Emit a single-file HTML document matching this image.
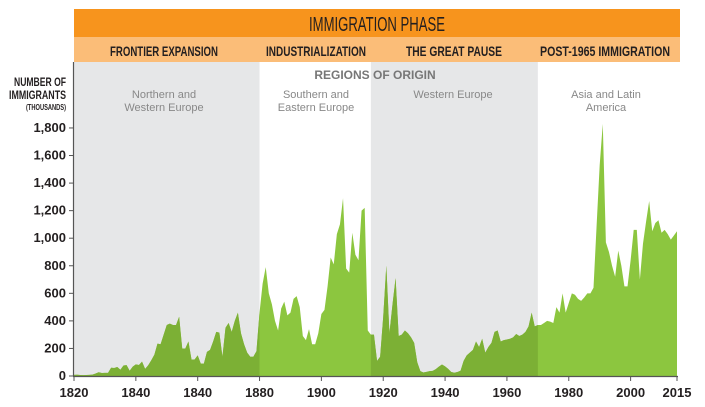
<!DOCTYPE html>
<html><head><meta charset="utf-8"><style>
html,body{margin:0;padding:0;background:#fff;}
svg{display:block;font-family:"Liberation Sans Narrow","Liberation Sans",sans-serif;}
</style></head><body>
<svg id="chart" width="705" height="407" viewBox="0 0 705 407">
<rect x="74" y="9" width="606" height="28" fill="#f7941d"/>
<text x="377" y="31" text-anchor="middle" font-size="20" fill="#231f20" textLength="136" lengthAdjust="spacingAndGlyphs">IMMIGRATION PHASE</text>
<rect x="74" y="37" width="606" height="25" fill="#fbbd78"/>
<g font-weight="bold" font-size="14" fill="#231f20" text-anchor="middle">
<text x="164" y="56" textLength="108" lengthAdjust="spacingAndGlyphs">FRONTIER EXPANSION</text>
<text x="316" y="56" textLength="100" lengthAdjust="spacingAndGlyphs">INDUSTRIALIZATION</text>
<text x="454" y="56" textLength="96" lengthAdjust="spacingAndGlyphs">THE GREAT PAUSE</text>
<text x="605" y="56" textLength="130" lengthAdjust="spacingAndGlyphs">POST-1965 IMMIGRATION</text>
</g>
<g id="bg"></g>
<text x="375" y="79" text-anchor="middle" font-size="12" font-weight="bold" fill="#777" font-family="Liberation Sans, sans-serif">REGIONS OF ORIGIN</text>
<g font-family="Liberation Sans, sans-serif" font-size="11" fill="#888" text-anchor="middle">
<text x="164" y="98">Northern and<tspan x="164" dy="13">Western Europe</tspan></text>
<text x="316" y="98">Southern and<tspan x="316" dy="13">Eastern Europe</tspan></text>
<text x="453" y="98">Western Europe</text>
<text x="606" y="98">Asia and Latin<tspan x="606" dy="13">America</tspan></text>
</g>
<g text-anchor="end" fill="#231f20" font-weight="bold">
<text x="66" y="86" font-size="12" textLength="52" lengthAdjust="spacingAndGlyphs">NUMBER OF</text>
<text x="66" y="99" font-size="12" textLength="57" lengthAdjust="spacingAndGlyphs">IMMIGRANTS</text>
<text x="66" y="110" font-size="8" textLength="40" lengthAdjust="spacingAndGlyphs">(THOUSANDS)</text>
</g>
<g id="plot"></g>
<g id="axes"></g>
</svg>
<script>
const startYear = 1820;
const values = [8,9,7,6,7,8,10,18,27,22,23,23,60,58,65,
45,76,79,38,68,84,80,104,52,78,114,155,235,230,300,
370,380,370,370,430,200,200,250,120,120,150,90,90,175,190,250,320,315,140,350,
385,320,400,460,310,230,170,140,140,180,
460,670,790,600,520,400,330,490,540,440,460,560,580,500,290,260,340,230,230,310,
450,480,650,860,810,1030,1100,1290,780,750,1040,880,840,1200,1220,330,300,300,110,140,
430,800,310,520,710,290,300,330,310,280,240,100,35,25,30,35,37,50,68,83,
70,52,29,24,29,38,110,150,170,190,250,210,270,170,210,240,320,330,250,260,
265,270,280,305,290,300,320,360,460,360,370,370,385,400,395,385,500,460,600,460,
530,600,590,560,545,570,600,600,640,1090,1530,1830,970,900,800,720,910,800,650,650,
840,1060,1060,700,960,1120,1270,1050,1110,1130,1040,1060,1030,990,1020,1050];
const xTicks = [1820,1840,1860,1880,1900,1920,1940,1960,1980,2000,2015];
const xTickLabels = ["1820","1840","1840","1880","1900","1920","1940","1960","1980","2000","2015"];
const yTicks = [0,200,400,600,800,1000,1200,1400,1600,1800];
const yTickLabels = ["0","200","400","600","800","1,000","1,200","1,400","1,600","1,800"];
const shadedPeriods = [[1820,1880],[1916,1970]];

const NS="http://www.w3.org/2000/svg";
const X0=74,X1=677,Y0=376,PXV=0.1378;
const x=y=>X0+(y-1820)*(X1-X0)/195;
const yv=v=>Y0-v*PXV;
function mk(t,a,p){const e=document.createElementNS(NS,t);for(const k in a)e.setAttribute(k,a[k]);p.appendChild(e);return e;}
const bg=document.getElementById('bg'),plot=document.getElementById('plot'),axes=document.getElementById('axes');
shadedPeriods.forEach((p,i)=>{
  const r=mk('rect',{x:x(p[0]),y:62,width:x(p[1])-x(p[0]),height:Y0-62,fill:'#e6e7e8'},bg);
  
  
});
let d=`M${x(startYear)},${Y0}`;
values.forEach((v,i)=>{d+=`L${x(startYear+i).toFixed(2)},${yv(v).toFixed(2)}`;});
d+=`L${x(startYear+values.length-1)},${Y0}Z`;
const area=mk('path',{d:d,fill:'#8cc63f'},plot);


const defs=mk('defs',{},plot);
shadedPeriods.forEach((p,i)=>{
  const cp=mk('clipPath',{id:'cp'+i},defs);
  mk('rect',{x:x(p[0]),y:0,width:x(p[1])-x(p[0]),height:Y0},cp);
  const a2=mk('path',{d:d,fill:'#7cb035','clip-path':`url(#cp${i})`},plot);
  
  
});
const ya=mk('line',{x1:73.5,x2:73.5,y1:62,y2:Y0,stroke:'#555','stroke-width':1.2},axes);


const xa=mk('line',{x1:73,x2:X1+1,y1:Y0+0.5,y2:Y0+0.5,stroke:'#555','stroke-width':1.2},axes);


yTicks.forEach((v,i)=>{
  mk('line',{x1:69,x2:74,y1:yv(v),y2:yv(v),stroke:'#555'},axes);
  const t=mk('text',{x:66,y:yv(v)+4,'text-anchor':'end','font-size':13,'font-weight':'bold',fill:'#231f20'},axes);
  t.textContent=yTickLabels[i];
  
  
});
xTicks.forEach((v,i)=>{
  mk('line',{x1:x(v),x2:x(v),y1:Y0,y2:Y0+5,stroke:'#555'},axes);
  const t=mk('text',{x:x(v),y:397,'text-anchor':'middle','font-size':13,'font-weight':'bold',fill:'#231f20'},axes);
  t.textContent=xTickLabels[i];
  
  
});
</script>
</body></html>
